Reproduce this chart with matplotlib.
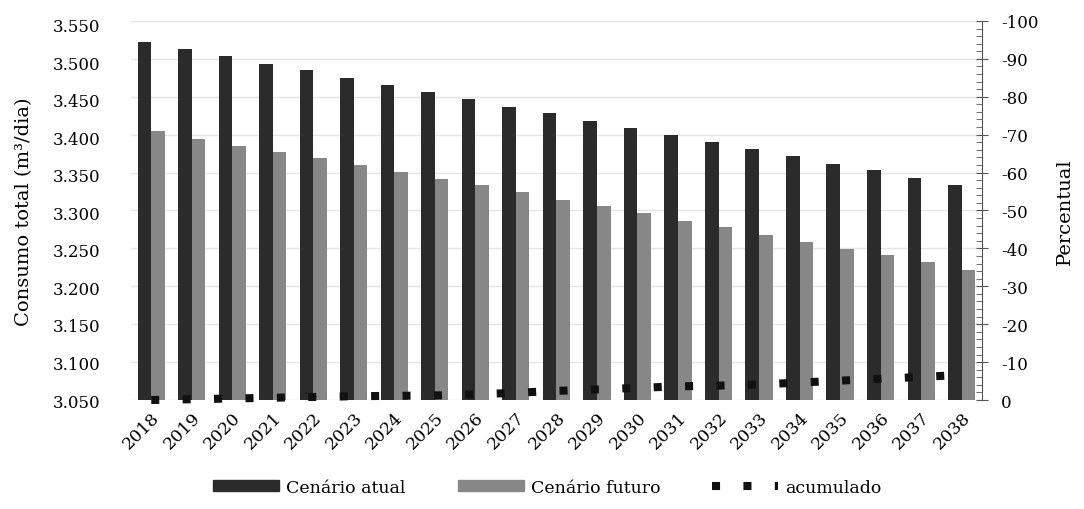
import numpy as np
import matplotlib
matplotlib.use("Agg")
import matplotlib.pyplot as plt
from matplotlib.ticker import FuncFormatter, MultipleLocator
from matplotlib.lines import Line2D
from matplotlib.patches import Patch

plt.rcParams['font.family'] = ['DejaVu Serif']

anos = [str(a) for a in range(2018, 2039)]
cenario_atual = [3527, 3518, 3508, 3498, 3489, 3479, 3470, 3460, 3451, 3441, 3432,
                 3422, 3413, 3403, 3394, 3384, 3375, 3365, 3356, 3346, 3337]
cenario_futuro = [3408, 3398, 3389, 3381, 3372, 3363, 3354, 3345, 3336, 3327, 3317,
                  3308, 3299, 3289, 3280, 3270, 3261, 3251, 3243, 3234, 3223]
acumulado = [0.0, -0.2, -0.4, -0.6, -0.8, -1.0, -1.1, -1.2, -1.5, -1.9, -2.4,
             -2.8, -3.2, -3.6, -3.8, -4.1, -4.6, -5.1, -5.6, -6.1, -6.6]

escuro = '#2b2b2b'
claro = '#878787'
pontos = (0, (1, 2.9))

fig = plt.figure(figsize=(10.84, 5.10), dpi=100)
ax = fig.add_axes([0.1208, 0.2137, 0.785, 0.7433])
ax2 = ax.twinx()

# eixo esquerdo: consumo
x = np.arange(len(anos))
w = 0.335
ax.bar(x - w / 2, cenario_atual, w, color=escuro, zorder=2)
ax.bar(x + w / 2, cenario_futuro, w, color=claro, zorder=2)
ax.set_xlim(-0.5, len(anos) - 0.5)
ax.set_ylim(3050, 3555)
ax.yaxis.set_major_locator(MultipleLocator(50))
ax.yaxis.set_major_formatter(FuncFormatter(lambda v, p: f"{v:,.0f}".replace(',', '.')))
ax.set_xticks(x)
ax.set_xticklabels(anos, rotation=45, ha='right', rotation_mode='anchor', fontsize=12.5)
ax.tick_params(axis='x', length=0, pad=6)
ax.tick_params(axis='y', length=0, labelsize=12, pad=22)
ax.set_ylabel('Consumo total (m³/dia)', fontsize=14, labelpad=14)
for s in ax.spines.values():
    s.set_visible(False)

# eixo direito: percentual, invertido (0 embaixo, -100 em cima)
ax2.set_ylim(0, -100)
ax2.yaxis.set_major_locator(MultipleLocator(10))
ax2.yaxis.set_minor_locator(MultipleLocator(2))
ax2.yaxis.set_major_formatter(FuncFormatter(lambda v, p: str(int(round(v)))))
ax2.tick_params(axis='y', which='major', direction='inout', length=8, labelsize=12,
                pad=10, color='#555555')
ax2.tick_params(axis='y', which='minor', direction='in', length=4, color='#555555')
ax2.grid(axis='y', color='#e4e4e4', linewidth=1)
ax2.set_ylabel('Percentual', fontsize=14, labelpad=12)
for s in ['top', 'left', 'bottom']:
    ax2.spines[s].set_visible(False)
ax2.spines['right'].set_color('#555555')

# barras por cima da grade do eixo direito
ax.set_zorder(ax2.get_zorder() + 1)
ax.patch.set_visible(False)

# série percentual desenhada por cima das barras (convertida para o eixo esquerdo)
y0, y1 = ax.get_ylim()
p0, p1 = ax2.get_ylim()
acum_conv = [y0 + (v - p0) * (y1 - y0) / (p1 - p0) for v in acumulado]
ax.plot(x, acum_conv, color='#111111', linewidth=5.8, linestyle=pontos,
        clip_on=False, zorder=3)

handles = [Patch(color=escuro), Patch(color=claro),
           Line2D([], [], color='#111111', linewidth=5.8, linestyle=pontos)]
fig.legend(handles, ['Cenário atual', 'Cenário futuro', 'acumulado'],
           loc='lower center', bbox_to_anchor=(0.505, -0.005), ncol=3, frameon=False,
           fontsize=12.5, handlelength=3.8, handleheight=0.6, columnspacing=3.0,
           handletextpad=0.4)

fig.savefig('out.png', dpi=100)
